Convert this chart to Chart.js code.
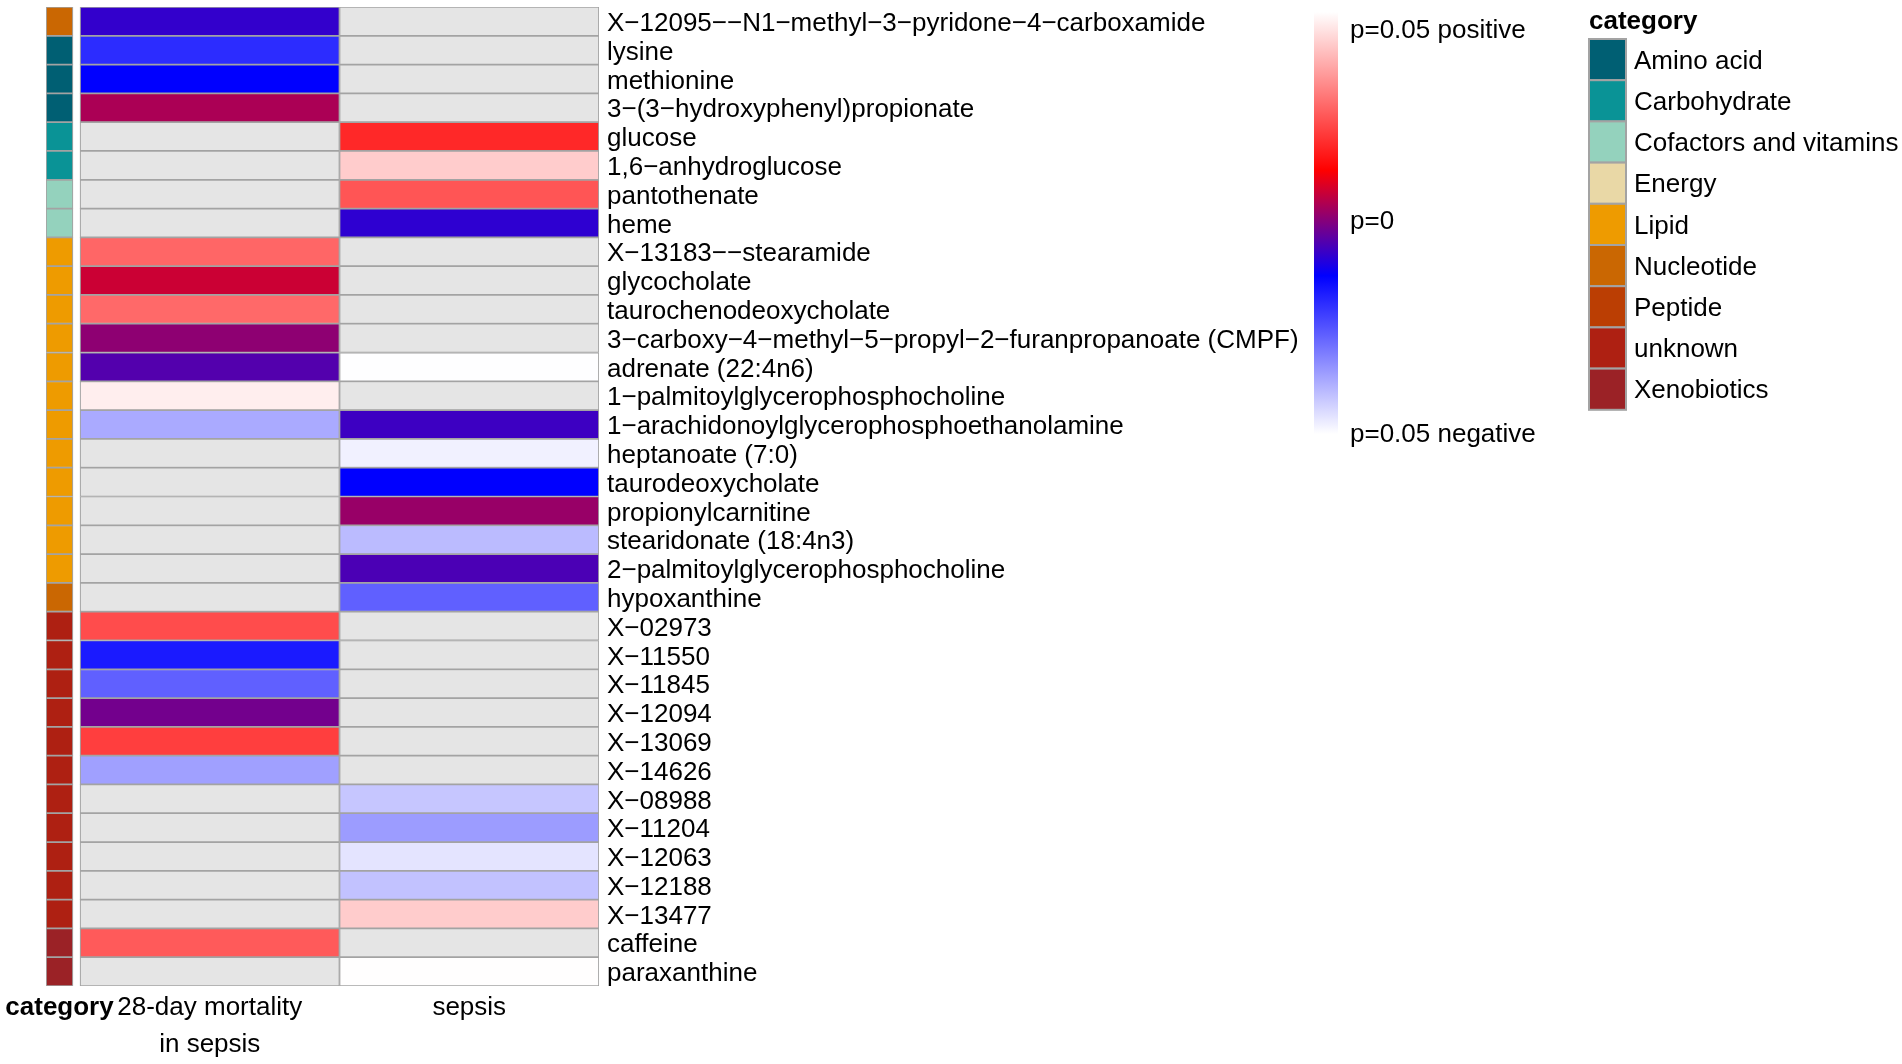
<!DOCTYPE html>
<html>
<head>
<meta charset="utf-8">
<script src="https://cdn.jsdelivr.net/npm/chart.js@4/dist/chart.umd.min.js"></script>
<style>
  html, body { margin: 0; padding: 0; background: #ffffff; }
  #wrap { width: 1902px; height: 1064px; position: relative; }
</style>
</head>
<body>
<div id="wrap"><canvas id="c" width="1902" height="1064"></canvas></div>
<script>
// ---------------- DATA ----------------
const metabolites = [
  "X\u221212095\u2212\u2212N1\u2212methyl\u22123\u2212pyridone\u22124\u2212carboxamide",
  "lysine",
  "methionine",
  "3\u2212(3\u2212hydroxyphenyl)propionate",
  "glucose",
  "1,6\u2212anhydroglucose",
  "pantothenate",
  "heme",
  "X\u221213183\u2212\u2212stearamide",
  "glycocholate",
  "taurochenodeoxycholate",
  "3\u2212carboxy\u22124\u2212methyl\u22125\u2212propyl\u22122\u2212furanpropanoate (CMPF)",
  "adrenate (22:4n6)",
  "1\u2212palmitoylglycerophosphocholine",
  "1\u2212arachidonoylglycerophosphoethanolamine",
  "heptanoate (7:0)",
  "taurodeoxycholate",
  "propionylcarnitine",
  "stearidonate (18:4n3)",
  "2\u2212palmitoylglycerophosphocholine",
  "hypoxanthine",
  "X\u221202973",
  "X\u221211550",
  "X\u221211845",
  "X\u221212094",
  "X\u221213069",
  "X\u221214626",
  "X\u221208988",
  "X\u221211204",
  "X\u221212063",
  "X\u221212188",
  "X\u221213477",
  "caffeine",
  "paraxanthine"
];

const metaboliteCategory = [
  "Nucleotide",
  "Amino acid", "Amino acid", "Amino acid",
  "Carbohydrate", "Carbohydrate",
  "Cofactors and vitamins", "Cofactors and vitamins",
  "Lipid", "Lipid", "Lipid", "Lipid", "Lipid", "Lipid",
  "Lipid", "Lipid", "Lipid", "Lipid", "Lipid", "Lipid",
  "Nucleotide",
  "unknown", "unknown", "unknown", "unknown", "unknown", "unknown",
  "unknown", "unknown", "unknown", "unknown", "unknown",
  "Xenobiotics", "Xenobiotics"
];

// signed p-values (positive / negative association); null = not significant
const mortalityP = [
  -0.0075, -0.019, -0.0125, 0.0042,
  null, null, null, null,
  0.0275, 0.0074, 0.028, 0.0014, -0.0044, 0.0475, -0.0375,
  null, null, null, null, null, null,
  0.0237, -0.0163, -0.0266, -0.0013, 0.0216, -0.036,
  null, null, null, null, null,
  0.0257, null
];

const sepsisP = [
  null, null, null, null,
  0.0184, 0.0425, 0.025, -0.008,
  null, null, null, null,
  -0.0499, null, -0.0065, -0.048, -0.0125, 0.0024, -0.040, -0.0052,
  -0.0266,
  null, null, null, null, null, null,
  -0.0416, -0.0355, -0.046, -0.041, 0.0425,
  null, 0.0499
];

const columnLabels = [["28-day mortality", "in sepsis"], "sepsis"];
const categoryAxisLabel = "category";

const categoryNames = ["Amino acid", "Carbohydrate", "Cofactors and vitamins", "Energy",
  "Lipid", "Nucleotide", "Peptide", "unknown", "Xenobiotics"];
const categoryColors = ["#005F73", "#0A9396", "#94D2BD", "#E9D8A6",
  "#EE9B00", "#CA6702", "#BB3E03", "#AE2012", "#9B2226"];

const pLimit = 0.05;
const colorbarLabels = ["p=0.05 positive", "p=0", "p=0.05 negative"];

// ---------------- STYLE ----------------
const FONT = "'Liberation Sans', Arial, Helvetica, sans-serif";
const NA_COLOR = "#E5E5E5";
const CELL_BORDER = "#A3A3A3";
const colorStops = [
  [-1, [255, 255, 255]],
  [-0.25, [0, 0, 255]],
  [0, [128, 0, 128]],
  [0.25, [255, 0, 0]],
  [1, [255, 255, 255]]
];

function pToColor(p) {
  if (p === null || p === undefined) return NA_COLOR;
  let s = Math.max(-1, Math.min(1, p / pLimit));
  for (let i = 0; i < colorStops.length - 1; i++) {
    const [a, ca] = colorStops[i];
    const [b, cb] = colorStops[i + 1];
    if (s >= a && s <= b) {
      const t = (s - a) / (b - a);
      const c = ca.map((v, k) => Math.round(v + (cb[k] - v) * t));
      return `rgb(${c[0]},${c[1]},${c[2]})`;
    }
  }
  return NA_COLOR;
}

// column extents on the x scale (layout, not data)
const CAT_COL = [-0.131, -0.027];
const COL_EXT = [[0, 1], [1, 2]];

const catColorOf = name => categoryColors[categoryNames.indexOf(name)];

// ---------------- LEGEND PLUGIN ----------------
const legendPlugin = {
  id: 'sideLegends',
  afterDraw(chart) {
    const ctx = chart.ctx;
    ctx.save();
    // colour bar
    const cbX = 1314, cbY0 = 12, cbY1 = 434, cbW = 24;
    const g = ctx.createLinearGradient(0, cbY0, 0, cbY1);
    colorStops.forEach(([s, c]) => {
      g.addColorStop((1 - s) / 2, `rgb(${c[0]},${c[1]},${c[2]})`);
    });
    ctx.fillStyle = g;
    ctx.fillRect(cbX, cbY0, cbW, cbY1 - cbY0);
    ctx.fillStyle = '#000';
    ctx.font = `26px ${FONT}`;
    ctx.textBaseline = 'middle';
    ctx.textAlign = 'left';
    const labelYs = [30.5, 222, 434.5];
    colorbarLabels.forEach((t, i) => ctx.fillText(t, 1350, labelYs[i]));

    // category legend
    ctx.font = `bold 26px ${FONT}`;
    ctx.fillText("category", 1589, 21.5);
    ctx.font = `26px ${FONT}`;
    const bx = 1589, bw = 37, by = 39, bh = 41.2;
    categoryNames.forEach((name, i) => {
      const y = by + i * bh;
      ctx.fillStyle = categoryColors[i];
      ctx.fillRect(bx, y, bw, bh);
      ctx.strokeStyle = CELL_BORDER;
      ctx.lineWidth = 2;
      ctx.strokeRect(bx, y, bw, bh);
      ctx.fillStyle = '#000';
      ctx.fillText(name, 1634, y + bh / 2 + 2);
    });
    ctx.restore();
  }
};

// ---------------- CHART ----------------
const datasets = [
  {
    label: 'category',
    data: metaboliteCategory.map(() => CAT_COL),
    backgroundColor: metaboliteCategory.map(catColorOf),
  },
  {
    label: '28-day mortality in sepsis',
    data: mortalityP.map(() => COL_EXT[0]),
    backgroundColor: mortalityP.map(pToColor),
  },
  {
    label: 'sepsis',
    data: sepsisP.map(() => COL_EXT[1]),
    backgroundColor: sepsisP.map(pToColor),
  }
].map(d => Object.assign(d, {
  borderColor: CELL_BORDER,
  borderWidth: 1.2,
  borderSkipped: false,
  grouped: false,
  barPercentage: 1,
  categoryPercentage: 1
}));

const xTickValues = [(CAT_COL[0] + CAT_COL[1]) / 2, 0.5, 1.5];
const xTickLabels = [categoryAxisLabel, columnLabels[0], columnLabels[1]];

new Chart(document.getElementById('c'), {
  type: 'bar',
  data: { labels: metabolites, datasets },
  options: {
    indexAxis: 'y',
    responsive: false,
    animation: false,
    events: [],
    layout: { padding: { top: 7, left: 46, right: 0, bottom: 0 } },
    plugins: { legend: { display: false }, tooltip: { enabled: false } },
    scales: {
      x: {
        type: 'linear',
        min: CAT_COL[0],
        max: 2,
        position: 'bottom',
        grid: { display: false, drawTicks: false },
        border: { display: false },
        afterBuildTicks(s) { s.ticks = xTickValues.map(v => ({ value: v })); },
        afterFit(s) { s.height = 1064 - 986; s.paddingLeft = 0; s.paddingRight = 0; },
        ticks: {
          autoSkip: false,
          maxRotation: 0,
          minRotation: 0,
          padding: 4,
          labelOffset: 0,
          color: '#000',
          font: (c) => ({ family: FONT, size: 26, lineHeight: 1.4, weight: c.index === 0 ? 'bold' : 'normal' }),
          callback: (v, i) => xTickLabels[i]
        }
      },
      y: {
        type: 'category',
        position: 'right',
        offset: true,
        grid: { display: false, drawTicks: false },
        border: { display: false },
        afterFit(s) { s.width = 1902 - 599; s.paddingTop = 0; s.paddingBottom = 0; },
        ticks: {
          autoSkip: false,
          crossAlign: 'near',
          padding: 8,
          labelOffset: 2.5,
          color: '#000',
          font: { family: FONT, size: 26 }
        }
      }
    }
  },
  plugins: [legendPlugin]
});
</script>
</body>
</html>
